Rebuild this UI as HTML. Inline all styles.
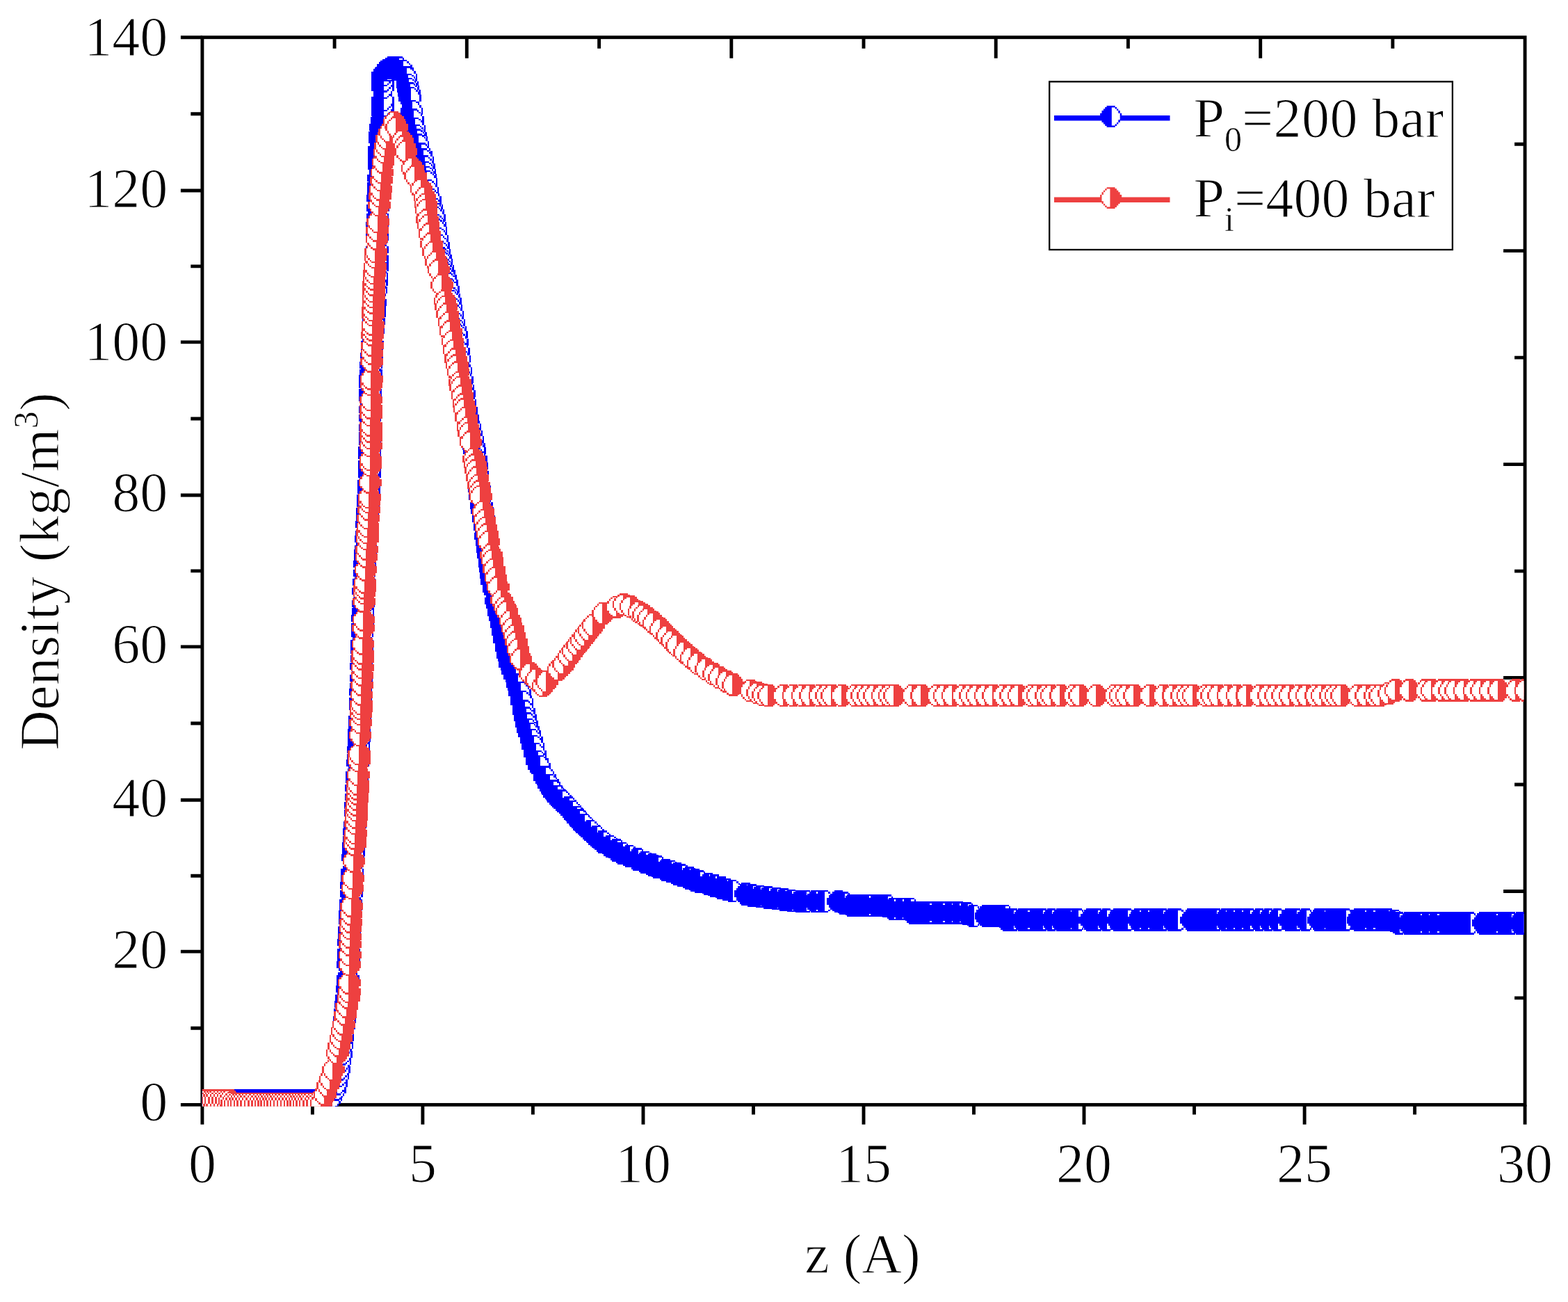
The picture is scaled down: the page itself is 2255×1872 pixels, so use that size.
<!DOCTYPE html>
<html><head><meta charset="utf-8"><style>
html,body{margin:0;padding:0;background:#fff;}
svg{display:block;}
text{font-family:"Liberation Serif","Times New Roman",serif;font-size:80px;fill:#000;stroke:#fff;stroke-width:1.2px;}
</style></head><body>
<svg width="2255" height="1872" viewBox="0 0 2255 1872">
<defs><g id="mb"><polygon points="6,-15.4 6,-13.4 8.4,-13.4 8.4,-10.9 10.7,-10.9 10.7,-8.4 13.1,-8.4 13.1,-4.7 15.5,-4.7 15.5,-0 15.5,4.7 13.1,4.7 13.1,8.4 10.7,8.4 10.7,10.9 8.4,10.9 8.4,13.4 6,13.4 6,15.4 -6,15.4 -6,13.4 -8.4,13.4 -8.4,10.9 -10.7,10.9 -10.7,8.4 -13.1,8.4 -13.1,4.7 -15.5,4.7 -15.5,-0 -15.5,-4.7 -13.1,-4.7 -13.1,-8.4 -10.7,-8.4 -10.7,-10.9 -8.4,-10.9 -8.4,-13.4 -6,-13.4 -6,-15.4" fill="#0000FF"/><polygon points="6,-13 6,-10.9 8.4,-10.9 8.4,-8.4 10.7,-8.4 10.7,-4.7 13.1,-4.7 13.1,-0 13.1,4.7 10.7,4.7 10.7,8.4 8.4,8.4 8.4,10.9 6,10.9 6,13 1.2,13 1.2,10.9 1.2,10.9 1.2,8.4 1.2,8.4 1.2,4.7 1.2,4.7 1.2,-0 1.2,-4.7 1.2,-4.7 1.2,-8.4 1.2,-8.4 1.2,-10.9 1.2,-10.9 1.2,-13" fill="#fff"/></g><g id="mr"><polygon points="6,-15.4 6,-13.4 8.4,-13.4 8.4,-10.9 10.7,-10.9 10.7,-8.4 13.1,-8.4 13.1,-4.7 15.5,-4.7 15.5,-0 15.5,4.7 13.1,4.7 13.1,8.4 10.7,8.4 10.7,10.9 8.4,10.9 8.4,13.4 6,13.4 6,15.4 -6,15.4 -6,13.4 -8.4,13.4 -8.4,10.9 -10.7,10.9 -10.7,8.4 -13.1,8.4 -13.1,4.7 -15.5,4.7 -15.5,-0 -15.5,-4.7 -13.1,-4.7 -13.1,-8.4 -10.7,-8.4 -10.7,-10.9 -8.4,-10.9 -8.4,-13.4 -6,-13.4 -6,-15.4" fill="#EE4040"/><polygon points="-1.2,-13 -1.2,-10.9 -1.2,-10.9 -1.2,-8.4 -1.2,-8.4 -1.2,-4.7 -1.2,-4.7 -1.2,-0 -1.2,4.7 -1.2,4.7 -1.2,8.4 -1.2,8.4 -1.2,10.9 -1.2,10.9 -1.2,13 -6,13 -6,10.9 -8.4,10.9 -8.4,8.4 -10.7,8.4 -10.7,4.7 -13.1,4.7 -13.1,-0 -13.1,-4.7 -10.7,-4.7 -10.7,-8.4 -8.4,-8.4 -8.4,-10.9 -6,-10.9 -6,-13" fill="#fff"/></g><g id="db"><polygon points="6.3,-16.2 6.3,-14.1 8.9,-14.1 8.9,-11.5 11.3,-11.5 11.3,-8.9 13.8,-8.9 13.8,-5 16.4,-5 16.4,-0 16.4,5 13.8,5 13.8,8.9 11.3,8.9 11.3,11.5 8.9,11.5 8.9,14.1 6.3,14.1 6.3,16.2 -6.3,16.2 -6.3,14.1 -8.9,14.1 -8.9,11.5 -11.3,11.5 -11.3,8.9 -13.8,8.9 -13.8,5 -16.4,5 -16.4,-0 -16.4,-5 -13.8,-5 -13.8,-8.9 -11.3,-8.9 -11.3,-11.5 -8.9,-11.5 -8.9,-14.1 -6.3,-14.1 -6.3,-16.2" fill="#0000FF"/><polygon points="6.3,-13.7 6.3,-11.5 8.9,-11.5 8.9,-8.9 11.3,-8.9 11.3,-5 13.8,-5 13.8,-0 13.8,5 11.3,5 11.3,8.9 8.9,8.9 8.9,11.5 6.3,11.5 6.3,13.7 1.2,13.7 1.2,11.5 1.2,11.5 1.2,8.9 1.2,8.9 1.2,5 1.2,5 1.2,-0 1.2,-5 1.2,-5 1.2,-8.9 1.2,-8.9 1.2,-11.5 1.2,-11.5 1.2,-13.7" fill="#fff"/></g><g id="dr"><polygon points="6.3,-16.2 6.3,-14.1 8.9,-14.1 8.9,-11.5 11.3,-11.5 11.3,-8.9 13.8,-8.9 13.8,-5 16.4,-5 16.4,-0 16.4,5 13.8,5 13.8,8.9 11.3,8.9 11.3,11.5 8.9,11.5 8.9,14.1 6.3,14.1 6.3,16.2 -6.3,16.2 -6.3,14.1 -8.9,14.1 -8.9,11.5 -11.3,11.5 -11.3,8.9 -13.8,8.9 -13.8,5 -16.4,5 -16.4,-0 -16.4,-5 -13.8,-5 -13.8,-8.9 -11.3,-8.9 -11.3,-11.5 -8.9,-11.5 -8.9,-14.1 -6.3,-14.1 -6.3,-16.2" fill="#EE4040"/><polygon points="-1.2,-13.7 -1.2,-11.5 -1.2,-11.5 -1.2,-8.9 -1.2,-8.9 -1.2,-5 -1.2,-5 -1.2,-0 -1.2,5 -1.2,5 -1.2,8.9 -1.2,8.9 -1.2,11.5 -1.2,11.5 -1.2,13.7 -6.3,13.7 -6.3,11.5 -8.9,11.5 -8.9,8.9 -11.3,8.9 -11.3,5 -13.8,5 -13.8,-0 -13.8,-5 -11.3,-5 -11.3,-8.9 -8.9,-8.9 -8.9,-11.5 -6.3,-11.5 -6.3,-13.7" fill="#fff"/></g><clipPath id="clip"><rect x="290.9" y="0" width="1900.6" height="1590.7"/></clipPath></defs>
<g id="axes"><rect x="290.9" y="53.7" width="1902.2" height="1534.7" fill="none" stroke="#000" stroke-width="4.9"/>
<path d="M259.9,1588.4H290.9M274.3,1478.2H290.9M259.9,1368.1H290.9M274.3,1259.2H290.9M259.9,1150.2H290.9M274.3,1040H290.9M259.9,929.9H290.9M274.3,820.9H290.9M259.9,712H290.9M274.3,602H290.9M259.9,491.9H290.9M274.3,382.9H290.9M259.9,274H290.9M274.3,163.8H290.9M259.9,53.7H290.9M290.9,1588.4V1616.8M449.4,1588.4V1602.5M607.9,1588.4V1616.8M766.4,1588.4V1602.5M925,1588.4V1616.8M1083.5,1588.4V1602.5M1242,1588.4V1616.8M1400.5,1588.4V1602.5M1559,1588.4V1616.8M1717.5,1588.4V1602.5M1876.1,1588.4V1616.8M2034.6,1588.4V1602.5M2193.1,1588.4V1616.8M481.1,53.7V69.7M671.3,53.7V83.7M861.6,53.7V69.7M1051.8,53.7V83.7M1242,53.7V69.7M1432.2,53.7V83.7M1622.4,53.7V69.7M1812.7,53.7V83.7M2002.9,53.7V69.7M2193.1,1434.9H2178.1M2193.1,1281.5H2162.1M2193.1,1128H2178.1M2193.1,974.5H2162.1M2193.1,821.1H2178.1M2193.1,667.6H2162.1M2193.1,514.1H2178.1M2193.1,360.6H2162.1M2193.1,207.2H2178.1" stroke="#000" stroke-width="4.9" fill="none"/></g>
<g clip-path="url(#clip)" shape-rendering="crispEdges">
<polyline fill="none" stroke="#0000FF" stroke-width="7" stroke-linejoin="round" points="291,1582.4 470,1582.4 476,1578 481,1568 485,1552 490,1520 493,1490 499.5,1428 502.5,1334 507.5,1239 516.5,1059 519.5,968 522.5,855 528.5,741 531.5,680 532.5,551 536,480 542,400 543,310 546,205 546,188 548.4,178 550.5,167 550.5,108 557,100 563,97.5 572.4,97.5 578,100 583.5,110 589,137 593.5,173 598.5,200 608,230 614,270 624,310 633,370 643,410 656.5,483 665,550 670.5,590 680,633 686,672 690,708 692,723 698,765 702,797 708,839 718,882 727,928 733,954 742,976 750,1005 758,1044 766,1070 773,1097 785,1121 797,1141 818,1162 837,1184 864,1209 894,1227 920,1237 950,1248 1001,1266 1056,1282 1085,1288 1115,1292 1146,1296 1210,1296 1218,1302 1275,1302 1278,1307 1310,1307 1312,1312.4 1390,1312.4 1392,1317 1445,1317 1447,1322.5 2005,1322.5 2007,1327.4 2200,1327.4"/>
<use href="#db" x="291" y="1582.4"/>
<use href="#db" x="295.3" y="1582.4"/>
<use href="#db" x="300.6" y="1582.4"/>
<use href="#db" x="305.8" y="1582.4"/>
<use href="#db" x="310.2" y="1582.4"/>
<use href="#db" x="315" y="1582.4"/>
<use href="#db" x="319.7" y="1582.4"/>
<use href="#db" x="324.7" y="1582.4"/>
<use href="#db" x="330" y="1582.4"/>
<use href="#db" x="334.2" y="1582.4"/>
<use href="#db" x="338.3" y="1582.4"/>
<use href="#db" x="343.6" y="1582.4"/>
<use href="#db" x="348.3" y="1582.4"/>
<use href="#db" x="353.5" y="1582.4"/>
<use href="#db" x="357.5" y="1582.4"/>
<use href="#db" x="362.3" y="1582.4"/>
<use href="#db" x="367.4" y="1582.4"/>
<use href="#db" x="371.8" y="1582.4"/>
<use href="#db" x="377.2" y="1582.4"/>
<use href="#db" x="382.6" y="1582.4"/>
<use href="#db" x="386.7" y="1582.4"/>
<use href="#db" x="390.8" y="1582.4"/>
<use href="#db" x="395.7" y="1582.4"/>
<use href="#db" x="401.1" y="1582.4"/>
<use href="#db" x="405.8" y="1582.4"/>
<use href="#db" x="410.2" y="1582.4"/>
<use href="#db" x="414.8" y="1582.4"/>
<use href="#db" x="419" y="1582.4"/>
<use href="#db" x="423.4" y="1582.4"/>
<use href="#db" x="428.1" y="1582.4"/>
<use href="#db" x="432.9" y="1582.4"/>
<use href="#db" x="437.3" y="1582.4"/>
<use href="#db" x="441.7" y="1582.4"/>
<use href="#db" x="446.1" y="1582.4"/>
<use href="#db" x="450.8" y="1582.4"/>
<use href="#db" x="455.3" y="1582.4"/>
<use href="#db" x="459.4" y="1582.4"/>
<use href="#db" x="464.7" y="1582.4"/>
<use href="#db" x="469.6" y="1582.4"/>
<use href="#db" x="475.7" y="1578.2"/>
<use href="#db" x="481.3" y="1566.7"/>
<use href="#db" x="483.4" y="1558.3"/>
<use href="#db" x="485.8" y="1546.8"/>
<use href="#db" x="487.3" y="1537.6"/>
<use href="#db" x="489" y="1526.4"/>
<use href="#db" x="490.4" y="1515.7"/>
<use href="#db" x="491.7" y="1503"/>
<use href="#db" x="492.8" y="1492.4"/>
<use href="#db" x="494.6" y="1474.9"/>
<use href="#db" x="495.6" y="1465.6"/>
<use href="#db" x="496.6" y="1455.3"/>
<use href="#db" x="497.8" y="1444"/>
<use href="#db" x="498.8" y="1434.5"/>
<use href="#db" x="499.7" y="1422.3"/>
<use href="#db" x="500" y="1413.2"/>
<use href="#db" x="500.2" y="1406.9"/>
<use href="#db" x="500.8" y="1387.3"/>
<use href="#db" x="501.1" y="1376.5"/>
<use href="#db" x="501.4" y="1369.2"/>
<use href="#db" x="501.8" y="1355.3"/>
<use href="#db" x="502.1" y="1345"/>
<use href="#db" x="502.4" y="1337.2"/>
<use href="#db" x="503" y="1323.6"/>
<use href="#db" x="503.6" y="1313.9"/>
<use href="#db" x="504.1" y="1303.5"/>
<use href="#db" x="504.4" y="1297.5"/>
<use href="#db" x="505.1" y="1284.9"/>
<use href="#db" x="505.7" y="1273"/>
<use href="#db" x="506.2" y="1262.9"/>
<use href="#db" x="506.7" y="1253.5"/>
<use href="#db" x="507.8" y="1233.1"/>
<use href="#db" x="508.2" y="1225.5"/>
<use href="#db" x="508.7" y="1215.7"/>
<use href="#db" x="509.1" y="1206.9"/>
<use href="#db" x="509.7" y="1195.9"/>
<use href="#db" x="510.1" y="1186.3"/>
<use href="#db" x="511" y="1168.8"/>
<use href="#db" x="511.5" y="1158.1"/>
<use href="#db" x="512.2" y="1145.7"/>
<use href="#db" x="512.8" y="1133.2"/>
<use href="#db" x="513.4" y="1120.5"/>
<use href="#db" x="513.8" y="1113.8"/>
<use href="#db" x="514.6" y="1097.3"/>
<use href="#db" x="515" y="1089.3"/>
<use href="#db" x="515.5" y="1078.3"/>
<use href="#db" x="515.9" y="1071.8"/>
<use href="#db" x="516.4" y="1061.6"/>
<use href="#db" x="516.7" y="1053.4"/>
<use href="#db" x="517" y="1043.8"/>
<use href="#db" x="517.3" y="1034"/>
<use href="#db" x="517.9" y="1015.7"/>
<use href="#db" x="518.2" y="1008.2"/>
<use href="#db" x="518.6" y="995.1"/>
<use href="#db" x="518.9" y="987.4"/>
<use href="#db" x="519.3" y="974.9"/>
<use href="#db" x="519.8" y="958.3"/>
<use href="#db" x="520.1" y="946.5"/>
<use href="#db" x="520.4" y="934.9"/>
<use href="#db" x="520.7" y="924.6"/>
<use href="#db" x="521" y="910.8"/>
<use href="#db" x="521.3" y="900.6"/>
<use href="#db" x="521.6" y="889.4"/>
<use href="#db" x="521.9" y="878.8"/>
<use href="#db" x="522.2" y="867.8"/>
<use href="#db" x="522.8" y="850"/>
<use href="#db" x="523.4" y="837"/>
<use href="#db" x="524.1" y="824.1"/>
<use href="#db" x="524.8" y="810.6"/>
<use href="#db" x="525.3" y="801.3"/>
<use href="#db" x="525.6" y="795.3"/>
<use href="#db" x="526" y="789"/>
<use href="#db" x="526.7" y="775.3"/>
<use href="#db" x="527.1" y="767.9"/>
<use href="#db" x="527.8" y="754.1"/>
<use href="#db" x="528.3" y="744.1"/>
<use href="#db" x="528.8" y="735.3"/>
<use href="#db" x="529.3" y="723.9"/>
<use href="#db" x="529.7" y="716.4"/>
<use href="#db" x="530.3" y="705.1"/>
<use href="#db" x="530.8" y="695.1"/>
<use href="#db" x="531.4" y="682.1"/>
<use href="#db" x="531.5" y="676"/>
<use href="#db" x="531.6" y="667.4"/>
<use href="#db" x="531.7" y="655.1"/>
<use href="#db" x="531.8" y="647.4"/>
<use href="#db" x="531.9" y="634.7"/>
<use href="#db" x="531.9" y="626"/>
<use href="#db" x="532" y="614.5"/>
<use href="#db" x="532.1" y="600.6"/>
<use href="#db" x="532.2" y="588.8"/>
<use href="#db" x="532.3" y="571.5"/>
<use href="#db" x="532.4" y="563.8"/>
<use href="#db" x="532.5" y="553"/>
<use href="#db" x="532.8" y="544.1"/>
<use href="#db" x="533.3" y="535.8"/>
<use href="#db" x="533.8" y="524.9"/>
<use href="#db" x="534.4" y="511.9"/>
<use href="#db" x="534.9" y="501.5"/>
<use href="#db" x="535.3" y="495.2"/>
<use href="#db" x="536.4" y="474.8"/>
<use href="#db" x="537.3" y="462.2"/>
<use href="#db" x="538.2" y="451.3"/>
<use href="#db" x="538.8" y="442.3"/>
<use href="#db" x="539.4" y="434.5"/>
<use href="#db" x="540.7" y="416.9"/>
<use href="#db" x="541.5" y="406.4"/>
<use href="#db" x="542" y="396.8"/>
<use href="#db" x="542.2" y="384.5"/>
<use href="#db" x="542.2" y="378.4"/>
<use href="#db" x="542.3" y="371.6"/>
<use href="#db" x="542.5" y="358.5"/>
<use href="#db" x="542.7" y="341"/>
<use href="#db" x="542.8" y="331.6"/>
<use href="#db" x="542.8" y="324.3"/>
<use href="#db" x="543" y="312.3"/>
<use href="#db" x="543.3" y="299"/>
<use href="#db" x="543.7" y="285.3"/>
<use href="#db" x="543.9" y="276.9"/>
<use href="#db" x="544.2" y="267.1"/>
<use href="#db" x="544.5" y="255.9"/>
<use href="#db" x="545" y="239.4"/>
<use href="#db" x="545.3" y="231"/>
<use href="#db" x="545.5" y="221.4"/>
<use href="#db" x="545.7" y="214.9"/>
<use href="#db" x="546" y="201.1"/>
<use href="#db" x="546" y="194.3"/>
<use href="#db" x="547.1" y="183.4"/>
<use href="#db" x="549.3" y="173.3"/>
<use href="#db" x="550.5" y="162.2"/>
<use href="#db" x="550.5" y="151.8"/>
<use href="#db" x="550.5" y="143.9"/>
<use href="#db" x="550.5" y="126.1"/>
<use href="#db" x="550.5" y="116.5"/>
<use href="#db" x="550.5" y="108"/>
<use href="#db" x="556.3" y="100.9"/>
<use href="#db" x="563" y="97.5"/>
<use href="#db" x="572.4" y="97.5"/>
<use href="#db" x="579.1" y="102"/>
<use href="#db" x="583.7" y="111.2"/>
<use href="#db" x="585.9" y="121.8"/>
<use href="#db" x="587.1" y="127.8"/>
<use href="#db" x="588.4" y="134.2"/>
<use href="#db" x="589.5" y="140.7"/>
<use href="#db" x="591.9" y="159.9"/>
<use href="#db" x="593.4" y="172.2"/>
<use href="#db" x="595.7" y="184.9"/>
<use href="#db" x="597.5" y="194.7"/>
<use href="#db" x="598.9" y="201.2"/>
<use href="#db" x="601.1" y="208.2"/>
<use href="#db" x="605.3" y="221.5"/>
<use href="#db" x="607.9" y="229.6"/>
<use href="#db" x="609.4" y="239.6"/>
<use href="#db" x="610.7" y="247.9"/>
<use href="#db" x="611.7" y="254.9"/>
<use href="#db" x="612.7" y="261.1"/>
<use href="#db" x="615" y="274.1"/>
<use href="#db" x="618.2" y="287"/>
<use href="#db" x="621.1" y="298.6"/>
<use href="#db" x="622.9" y="305.8"/>
<use href="#db" x="624.4" y="312.9"/>
<use href="#db" x="626.1" y="324.1"/>
<use href="#db" x="627.1" y="330.5"/>
<use href="#db" x="628.9" y="342.9"/>
<use href="#db" x="630.5" y="353.1"/>
<use href="#db" x="631.9" y="362.6"/>
<use href="#db" x="633.3" y="371.2"/>
<use href="#db" x="634.8" y="377.2"/>
<use href="#db" x="637.1" y="386.3"/>
<use href="#db" x="638.6" y="392.6"/>
<use href="#db" x="640.4" y="399.5"/>
<use href="#db" x="642.3" y="407.3"/>
<use href="#db" x="644.2" y="416.3"/>
<use href="#db" x="646.1" y="427"/>
<use href="#db" x="647.2" y="433"/>
<use href="#db" x="649.1" y="442.8"/>
<use href="#db" x="650.8" y="452.1"/>
<use href="#db" x="652.9" y="463.8"/>
<use href="#db" x="654.8" y="473.6"/>
<use href="#db" x="656.2" y="481.3"/>
<use href="#db" x="657.6" y="491.6"/>
<use href="#db" x="659.3" y="504.9"/>
<use href="#db" x="660.7" y="516"/>
<use href="#db" x="662.8" y="532.7"/>
<use href="#db" x="664.4" y="545.6"/>
<use href="#db" x="666" y="557.6"/>
<use href="#db" x="667.2" y="566"/>
<use href="#db" x="668.9" y="578.7"/>
<use href="#db" x="670.5" y="590.2"/>
<use href="#db" x="672.9" y="600.7"/>
<use href="#db" x="675.7" y="613.5"/>
<use href="#db" x="678" y="623.9"/>
<use href="#db" x="679.7" y="631.7"/>
<use href="#db" x="681.4" y="642.1"/>
<use href="#db" x="682.4" y="648.4"/>
<use href="#db" x="684.2" y="660"/>
<use href="#db" x="685.7" y="670"/>
<use href="#db" x="687.1" y="681.8"/>
<use href="#db" x="689.4" y="702.6"/>
<use href="#db" x="690.7" y="713.5"/>
<use href="#db" x="692.5" y="726.7"/>
<use href="#db" x="693.5" y="733.8"/>
<use href="#db" x="695.3" y="746.4"/>
<use href="#db" x="697" y="757.8"/>
<use href="#db" x="698.8" y="771.1"/>
<use href="#db" x="699.9" y="780.1"/>
<use href="#db" x="701.1" y="789.5"/>
<use href="#db" x="702.1" y="798"/>
<use href="#db" x="704" y="811.2"/>
<use href="#db" x="705" y="818.1"/>
<use href="#db" x="706.3" y="827.2"/>
<use href="#db" x="707.5" y="835.5"/>
<use href="#db" x="709.9" y="847.3"/>
<use href="#db" x="713.8" y="864.2"/>
<use href="#db" x="715.2" y="870.2"/>
<use href="#db" x="717.7" y="880.7"/>
<use href="#db" x="719.2" y="888.2"/>
<use href="#db" x="721.2" y="898.4"/>
<use href="#db" x="723.3" y="908.9"/>
<use href="#db" x="725.5" y="920.1"/>
<use href="#db" x="728" y="932.3"/>
<use href="#db" x="730.3" y="942.4"/>
<use href="#db" x="733.4" y="954.9"/>
<use href="#db" x="737.4" y="964.7"/>
<use href="#db" x="740.5" y="972.3"/>
<use href="#db" x="744.3" y="984.2"/>
<use href="#db" x="747.4" y="995.7"/>
<use href="#db" x="750.8" y="1009"/>
<use href="#db" x="753.6" y="1022.5"/>
<use href="#db" x="755.6" y="1032.3"/>
<use href="#db" x="757.3" y="1040.6"/>
<use href="#db" x="759.6" y="1049.2"/>
<use href="#db" x="761.4" y="1054.9"/>
<use href="#db" x="764.2" y="1064.1"/>
<use href="#db" x="766.8" y="1072.9"/>
<use href="#db" x="769.6" y="1084"/>
<use href="#db" x="772.4" y="1094.8"/>
<use href="#db" x="775.4" y="1101.8"/>
<use href="#db" x="783.4" y="1117.7"/>
<use href="#db" x="789.8" y="1129"/>
<use href="#db" x="795" y="1137.7"/>
<use href="#db" x="801.1" y="1145.1"/>
<use href="#db" x="807.7" y="1151.7"/>
<use href="#db" x="817.5" y="1161.5"/>
<use href="#db" x="822.4" y="1167"/>
<use href="#db" x="829.1" y="1174.8"/>
<use href="#db" x="833" y="1179.4"/>
<use href="#db" x="839.4" y="1186.2"/>
<use href="#db" x="848.9" y="1195"/>
<use href="#db" x="857.6" y="1203.1"/>
<use href="#db" x="866.8" y="1210.7"/>
<use href="#db" x="877" y="1216.8"/>
<use href="#db" x="886.6" y="1222.6"/>
<use href="#db" x="894.6" y="1227.2"/>
<use href="#db" x="905" y="1231.2"/>
<use href="#db" x="916.4" y="1235.6"/>
<use href="#db" x="927.8" y="1239.8"/>
<use href="#db" x="938" y="1243.6"/>
<use href="#db" x="945.6" y="1246.4"/>
<use href="#db" x="957.8" y="1250.8"/>
<use href="#db" x="964.6" y="1253.2"/>
<use href="#db" x="973.9" y="1256.4"/>
<use href="#db" x="979.9" y="1258.6"/>
<use href="#db" x="991.2" y="1262.5"/>
<use href="#db" x="999.5" y="1265.5"/>
<use href="#db" x="1005.4" y="1267.3"/>
<use href="#db" x="1018.5" y="1271.1"/>
<use href="#db" x="1027.3" y="1273.7"/>
<use href="#db" x="1037.7" y="1276.7"/>
<use href="#db" x="1045.1" y="1278.8"/>
<use href="#db" x="1052.9" y="1281.1"/>
<use href="#db" x="1072.7" y="1285.4"/>
<use href="#db" x="1081.4" y="1287.3"/>
<use href="#db" x="1093.2" y="1289.1"/>
<use href="#db" x="1104.3" y="1290.6"/>
<use href="#db" x="1116.7" y="1292.2"/>
<use href="#db" x="1127.5" y="1293.6"/>
<use href="#db" x="1137.9" y="1295"/>
<use href="#db" x="1150.1" y="1296"/>
<use href="#db" x="1158.8" y="1296"/>
<use href="#db" x="1172.5" y="1296"/>
<use href="#db" x="1185.2" y="1296"/>
<use href="#db" x="1205.8" y="1296"/>
<use href="#db" x="1213.4" y="1298.6"/>
<use href="#db" x="1224.4" y="1302"/>
<use href="#db" x="1231.9" y="1302"/>
<use href="#db" x="1239.2" y="1302"/>
<use href="#db" x="1248.8" y="1302"/>
<use href="#db" x="1260.6" y="1302"/>
<use href="#db" x="1268.7" y="1302"/>
<use href="#db" x="1275.4" y="1302.7"/>
<use href="#db" x="1284.7" y="1307"/>
<use href="#db" x="1296.7" y="1307"/>
<use href="#db" x="1308.5" y="1307"/>
<use href="#db" x="1313.2" y="1312.4"/>
<use href="#db" x="1322.3" y="1312.4"/>
<use href="#db" x="1329.1" y="1312.4"/>
<use href="#db" x="1335.6" y="1312.4"/>
<use href="#db" x="1348.7" y="1312.4"/>
<use href="#db" x="1355" y="1312.4"/>
<use href="#db" x="1367.5" y="1312.4"/>
<use href="#db" x="1378.4" y="1312.4"/>
<use href="#db" x="1390.4" y="1313.4"/>
<use href="#db" x="1399.6" y="1317"/>
<use href="#db" x="1417.9" y="1317"/>
<use href="#db" x="1426.9" y="1317"/>
<use href="#db" x="1434.8" y="1317"/>
<use href="#db" x="1444.5" y="1317"/>
<use href="#db" x="1448.3" y="1322.5"/>
<use href="#db" x="1457" y="1322.5"/>
<use href="#db" x="1470.3" y="1322.5"/>
<use href="#db" x="1476.6" y="1322.5"/>
<use href="#db" x="1489.5" y="1322.5"/>
<use href="#db" x="1498.6" y="1322.5"/>
<use href="#db" x="1511.9" y="1322.5"/>
<use href="#db" x="1524.9" y="1322.5"/>
<use href="#db" x="1532.2" y="1322.5"/>
<use href="#db" x="1538.3" y="1322.5"/>
<use href="#db" x="1549.6" y="1322.5"/>
<use href="#db" x="1567.8" y="1322.5"/>
<use href="#db" x="1577.5" y="1322.5"/>
<use href="#db" x="1590.8" y="1322.5"/>
<use href="#db" x="1607.5" y="1322.5"/>
<use href="#db" x="1613.9" y="1322.5"/>
<use href="#db" x="1620.8" y="1322.5"/>
<use href="#db" x="1637.4" y="1322.5"/>
<use href="#db" x="1649.4" y="1322.5"/>
<use href="#db" x="1662.2" y="1322.5"/>
<use href="#db" x="1671.3" y="1322.5"/>
<use href="#db" x="1685" y="1322.5"/>
<use href="#db" x="1693" y="1322.5"/>
<use href="#db" x="1713.7" y="1322.5"/>
<use href="#db" x="1722.5" y="1322.5"/>
<use href="#db" x="1733" y="1322.5"/>
<use href="#db" x="1739.5" y="1322.5"/>
<use href="#db" x="1748.8" y="1322.5"/>
<use href="#db" x="1761.8" y="1322.5"/>
<use href="#db" x="1773.1" y="1322.5"/>
<use href="#db" x="1785" y="1322.5"/>
<use href="#db" x="1797.1" y="1322.5"/>
<use href="#db" x="1810.9" y="1322.5"/>
<use href="#db" x="1824.2" y="1322.5"/>
<use href="#db" x="1837" y="1322.5"/>
<use href="#db" x="1854" y="1322.5"/>
<use href="#db" x="1863.7" y="1322.5"/>
<use href="#db" x="1877.6" y="1322.5"/>
<use href="#db" x="1896.5" y="1322.5"/>
<use href="#db" x="1903.5" y="1322.5"/>
<use href="#db" x="1915.2" y="1322.5"/>
<use href="#db" x="1921.4" y="1322.5"/>
<use href="#db" x="1928.1" y="1322.5"/>
<use href="#db" x="1934.8" y="1322.5"/>
<use href="#db" x="1953" y="1322.5"/>
<use href="#db" x="1961.5" y="1322.5"/>
<use href="#db" x="1973.9" y="1322.5"/>
<use href="#db" x="1986.7" y="1322.5"/>
<use href="#db" x="1996.1" y="1322.5"/>
<use href="#db" x="2005.6" y="1323.9"/>
<use href="#db" x="2012" y="1327.4"/>
<use href="#db" x="2025.6" y="1327.4"/>
<use href="#db" x="2032.5" y="1327.4"/>
<use href="#db" x="2042.1" y="1327.4"/>
<use href="#db" x="2053.8" y="1327.4"/>
<use href="#db" x="2065.4" y="1327.4"/>
<use href="#db" x="2078.6" y="1327.4"/>
<use href="#db" x="2086.9" y="1327.4"/>
<use href="#db" x="2095.9" y="1327.4"/>
<use href="#db" x="2102.7" y="1327.4"/>
<use href="#db" x="2113.3" y="1327.4"/>
<use href="#db" x="2133.4" y="1327.4"/>
<use href="#db" x="2141.9" y="1327.4"/>
<use href="#db" x="2150.8" y="1327.4"/>
<use href="#db" x="2162.8" y="1327.4"/>
<use href="#db" x="2173" y="1327.4"/>
<use href="#db" x="2186.3" y="1327.4"/>
<use href="#db" x="2194.9" y="1327.4"/>
<polyline fill="none" stroke="#EE4040" stroke-width="7" stroke-linejoin="round" points="291,1582.3 330,1582.3 334,1586.9 452,1586.9 462,1585.5 468,1572 472,1560 478,1544 484,1519 490,1494 495,1468 502,1430 504,1334 509,1239 518,1059 521,968 524,855 530,741 533,680 534,551 538,400 545,300 550,240 556,200 567,176 576,195 585,220 597,252 611,283 615,319 622,358 633,395 644,454 658,529 671,604 685,678 698,753 712,827 720,860 732,886 741,917 748,946 760,966 781,986 790,976 810,956 820,941 850,903 870,879 897,869.2 905,871 930,887 947,901 962,917 980,934 1005,955 1029,971 1057,986 1086,995 1100,1000 1988,1000 1992,997 2000,997 2004,992.5 2200,992.5"/>
<use href="#dr" x="291" y="1582.3"/>
<use href="#dr" x="296.5" y="1582.3"/>
<use href="#dr" x="301.9" y="1582.3"/>
<use href="#dr" x="306.1" y="1582.3"/>
<use href="#dr" x="310.3" y="1582.3"/>
<use href="#dr" x="315.5" y="1582.3"/>
<use href="#dr" x="320.7" y="1582.3"/>
<use href="#dr" x="325.7" y="1582.3"/>
<use href="#dr" x="330.2" y="1582.5"/>
<use href="#dr" x="333.4" y="1586.2"/>
<use href="#dr" x="338.1" y="1586.9"/>
<use href="#dr" x="343" y="1586.9"/>
<use href="#dr" x="347.3" y="1586.9"/>
<use href="#dr" x="352" y="1586.9"/>
<use href="#dr" x="356.6" y="1586.9"/>
<use href="#dr" x="361.8" y="1586.9"/>
<use href="#dr" x="367.3" y="1586.9"/>
<use href="#dr" x="372.7" y="1586.9"/>
<use href="#dr" x="377.6" y="1586.9"/>
<use href="#dr" x="382.3" y="1586.9"/>
<use href="#dr" x="386.8" y="1586.9"/>
<use href="#dr" x="390.9" y="1586.9"/>
<use href="#dr" x="395" y="1586.9"/>
<use href="#dr" x="399.8" y="1586.9"/>
<use href="#dr" x="404.3" y="1586.9"/>
<use href="#dr" x="408.9" y="1586.9"/>
<use href="#dr" x="414.3" y="1586.9"/>
<use href="#dr" x="419.1" y="1586.9"/>
<use href="#dr" x="424" y="1586.9"/>
<use href="#dr" x="428.4" y="1586.9"/>
<use href="#dr" x="432.6" y="1586.9"/>
<use href="#dr" x="437.1" y="1586.9"/>
<use href="#dr" x="441.4" y="1586.9"/>
<use href="#dr" x="446.2" y="1586.9"/>
<use href="#dr" x="451.7" y="1586.9"/>
<use href="#dr" x="456.7" y="1586.2"/>
<use href="#dr" x="462" y="1585.5"/>
<use href="#dr" x="467.2" y="1573.7"/>
<use href="#dr" x="471.5" y="1561.4"/>
<use href="#dr" x="474.9" y="1552.1"/>
<use href="#dr" x="479.4" y="1538.2"/>
<use href="#dr" x="485.2" y="1514.1"/>
<use href="#dr" x="487.7" y="1503.7"/>
<use href="#dr" x="490.2" y="1493"/>
<use href="#dr" x="492.3" y="1482.2"/>
<use href="#dr" x="494.1" y="1472.6"/>
<use href="#dr" x="496.7" y="1458.6"/>
<use href="#dr" x="498.8" y="1447.3"/>
<use href="#dr" x="501.1" y="1434.7"/>
<use href="#dr" x="502.1" y="1426"/>
<use href="#dr" x="502.3" y="1413.4"/>
<use href="#dr" x="502.9" y="1387.2"/>
<use href="#dr" x="503.2" y="1373"/>
<use href="#dr" x="503.5" y="1358.3"/>
<use href="#dr" x="503.7" y="1347.3"/>
<use href="#dr" x="504" y="1335.1"/>
<use href="#dr" x="504.4" y="1325.6"/>
<use href="#dr" x="505" y="1314.5"/>
<use href="#dr" x="505.7" y="1302.5"/>
<use href="#dr" x="507" y="1277.2"/>
<use href="#dr" x="507.7" y="1262.9"/>
<use href="#dr" x="509" y="1238.3"/>
<use href="#dr" x="510.2" y="1214.4"/>
<use href="#dr" x="510.7" y="1205.6"/>
<use href="#dr" x="511.1" y="1197.8"/>
<use href="#dr" x="511.8" y="1184"/>
<use href="#dr" x="512.2" y="1175.3"/>
<use href="#dr" x="512.7" y="1164.9"/>
<use href="#dr" x="513.1" y="1157.7"/>
<use href="#dr" x="513.5" y="1149.3"/>
<use href="#dr" x="513.9" y="1141.7"/>
<use href="#dr" x="514.2" y="1134.5"/>
<use href="#dr" x="514.6" y="1127.3"/>
<use href="#dr" x="515.3" y="1113.8"/>
<use href="#dr" x="516.2" y="1094.2"/>
<use href="#dr" x="516.7" y="1084.1"/>
<use href="#dr" x="518.1" y="1057.2"/>
<use href="#dr" x="518.7" y="1038.9"/>
<use href="#dr" x="519.1" y="1027"/>
<use href="#dr" x="519.3" y="1019.1"/>
<use href="#dr" x="519.6" y="1011.9"/>
<use href="#dr" x="520" y="998.7"/>
<use href="#dr" x="520.5" y="984.5"/>
<use href="#dr" x="520.9" y="970.6"/>
<use href="#dr" x="521.2" y="959.9"/>
<use href="#dr" x="521.5" y="947.6"/>
<use href="#dr" x="521.7" y="939.8"/>
<use href="#dr" x="522.1" y="925.8"/>
<use href="#dr" x="522.7" y="902.5"/>
<use href="#dr" x="523" y="891.4"/>
<use href="#dr" x="523.7" y="864.8"/>
<use href="#dr" x="524.1" y="852.9"/>
<use href="#dr" x="524.5" y="845.8"/>
<use href="#dr" x="524.9" y="837.7"/>
<use href="#dr" x="525.9" y="819.4"/>
<use href="#dr" x="526.9" y="800.6"/>
<use href="#dr" x="527.4" y="789.5"/>
<use href="#dr" x="528.2" y="775.1"/>
<use href="#dr" x="528.7" y="766.2"/>
<use href="#dr" x="529.1" y="757.2"/>
<use href="#dr" x="529.8" y="745.2"/>
<use href="#dr" x="530.4" y="732.6"/>
<use href="#dr" x="530.9" y="722.2"/>
<use href="#dr" x="531.3" y="715.2"/>
<use href="#dr" x="532.3" y="693.5"/>
<use href="#dr" x="533.1" y="669"/>
<use href="#dr" x="533.1" y="661.2"/>
<use href="#dr" x="533.3" y="641.2"/>
<use href="#dr" x="533.4" y="630"/>
<use href="#dr" x="533.5" y="620.5"/>
<use href="#dr" x="533.5" y="611.8"/>
<use href="#dr" x="533.6" y="597.1"/>
<use href="#dr" x="533.7" y="586.6"/>
<use href="#dr" x="533.8" y="575"/>
<use href="#dr" x="534" y="553.2"/>
<use href="#dr" x="534.2" y="544.8"/>
<use href="#dr" x="534.8" y="519.6"/>
<use href="#dr" x="535.1" y="508.4"/>
<use href="#dr" x="535.4" y="496.5"/>
<use href="#dr" x="535.8" y="481.7"/>
<use href="#dr" x="536" y="474.5"/>
<use href="#dr" x="536.2" y="466.7"/>
<use href="#dr" x="536.6" y="453"/>
<use href="#dr" x="536.8" y="445.9"/>
<use href="#dr" x="537.1" y="435.6"/>
<use href="#dr" x="537.3" y="426.9"/>
<use href="#dr" x="537.5" y="419.3"/>
<use href="#dr" x="537.8" y="409.4"/>
<use href="#dr" x="538" y="401.8"/>
<use href="#dr" x="538.5" y="393.2"/>
<use href="#dr" x="539.2" y="383.1"/>
<use href="#dr" x="540.1" y="370.1"/>
<use href="#dr" x="540.6" y="362.2"/>
<use href="#dr" x="542" y="343.5"/>
<use href="#dr" x="542.8" y="331.4"/>
<use href="#dr" x="543.7" y="318.9"/>
<use href="#dr" x="545.4" y="295"/>
<use href="#dr" x="546.5" y="282.3"/>
<use href="#dr" x="547.3" y="272.4"/>
<use href="#dr" x="548.4" y="259.1"/>
<use href="#dr" x="549.3" y="247.9"/>
<use href="#dr" x="551" y="233.4"/>
<use href="#dr" x="553.1" y="219.1"/>
<use href="#dr" x="554.5" y="209.8"/>
<use href="#dr" x="556.4" y="199.1"/>
<use href="#dr" x="560.7" y="189.6"/>
<use href="#dr" x="567" y="176"/>
<use href="#dr" x="570.5" y="183.3"/>
<use href="#dr" x="578.8" y="202.8"/>
<use href="#dr" x="581.6" y="210.5"/>
<use href="#dr" x="584.1" y="217.6"/>
<use href="#dr" x="593.3" y="242"/>
<use href="#dr" x="597.6" y="253.4"/>
<use href="#dr" x="606.1" y="272.2"/>
<use href="#dr" x="611.1" y="283.5"/>
<use href="#dr" x="612.2" y="294"/>
<use href="#dr" x="613.1" y="301.8"/>
<use href="#dr" x="614.7" y="316.3"/>
<use href="#dr" x="615.9" y="324"/>
<use href="#dr" x="618.1" y="336.5"/>
<use href="#dr" x="620.6" y="350.5"/>
<use href="#dr" x="623.4" y="362.8"/>
<use href="#dr" x="627.7" y="377.1"/>
<use href="#dr" x="631" y="388.2"/>
<use href="#dr" x="635.7" y="409.6"/>
<use href="#dr" x="640" y="432.6"/>
<use href="#dr" x="641.6" y="440.9"/>
<use href="#dr" x="643.5" y="451.6"/>
<use href="#dr" x="645.9" y="464"/>
<use href="#dr" x="648.2" y="476.5"/>
<use href="#dr" x="650.9" y="490.9"/>
<use href="#dr" x="653.3" y="503.7"/>
<use href="#dr" x="655.7" y="516.5"/>
<use href="#dr" x="657.3" y="525.2"/>
<use href="#dr" x="659.1" y="535.2"/>
<use href="#dr" x="661.6" y="549.8"/>
<use href="#dr" x="662.8" y="556.8"/>
<use href="#dr" x="665" y="569.3"/>
<use href="#dr" x="667.1" y="581.4"/>
<use href="#dr" x="668.3" y="588.4"/>
<use href="#dr" x="670.5" y="601"/>
<use href="#dr" x="673.1" y="615"/>
<use href="#dr" x="674.5" y="622.7"/>
<use href="#dr" x="677" y="635.6"/>
<use href="#dr" x="681.6" y="659.9"/>
<use href="#dr" x="683.2" y="668.3"/>
<use href="#dr" x="684.7" y="676.2"/>
<use href="#dr" x="686.5" y="686.5"/>
<use href="#dr" x="688.5" y="697.9"/>
<use href="#dr" x="689.9" y="706.4"/>
<use href="#dr" x="691.2" y="713.9"/>
<use href="#dr" x="695" y="735.9"/>
<use href="#dr" x="697.1" y="748"/>
<use href="#dr" x="699.1" y="758.7"/>
<use href="#dr" x="700.9" y="768.2"/>
<use href="#dr" x="702.9" y="779.1"/>
<use href="#dr" x="706.4" y="797.5"/>
<use href="#dr" x="708" y="805.7"/>
<use href="#dr" x="710.4" y="818.7"/>
<use href="#dr" x="712.9" y="830.9"/>
<use href="#dr" x="716.2" y="844.4"/>
<use href="#dr" x="721.4" y="863.1"/>
<use href="#dr" x="725.9" y="872.8"/>
<use href="#dr" x="728.9" y="879.3"/>
<use href="#dr" x="734" y="893"/>
<use href="#dr" x="737.2" y="903.9"/>
<use href="#dr" x="740.1" y="914"/>
<use href="#dr" x="742.5" y="923.2"/>
<use href="#dr" x="745" y="933.7"/>
<use href="#dr" x="748.9" y="947.5"/>
<use href="#dr" x="762.8" y="968.6"/>
<use href="#dr" x="771.6" y="977"/>
<use href="#dr" x="781" y="986"/>
<use href="#dr" x="786.5" y="979.9"/>
<use href="#dr" x="803.1" y="962.9"/>
<use href="#dr" x="810.8" y="954.8"/>
<use href="#dr" x="818.2" y="943.7"/>
<use href="#dr" x="823.9" y="936.1"/>
<use href="#dr" x="830.5" y="927.7"/>
<use href="#dr" x="836.2" y="920.5"/>
<use href="#dr" x="841.1" y="914.3"/>
<use href="#dr" x="847.3" y="906.4"/>
<use href="#dr" x="853.3" y="899"/>
<use href="#dr" x="867.5" y="882"/>
<use href="#dr" x="887" y="872.8"/>
<use href="#dr" x="897" y="869.2"/>
<use href="#dr" x="907" y="872.3"/>
<use href="#dr" x="919.1" y="880"/>
<use href="#dr" x="925.7" y="884.2"/>
<use href="#dr" x="932.6" y="889.2"/>
<use href="#dr" x="940.3" y="895.5"/>
<use href="#dr" x="950.2" y="904.5"/>
<use href="#dr" x="959.4" y="914.3"/>
<use href="#dr" x="966.7" y="921.4"/>
<use href="#dr" x="973.8" y="928.1"/>
<use href="#dr" x="984.5" y="937.8"/>
<use href="#dr" x="994.1" y="945.8"/>
<use href="#dr" x="1004" y="954.1"/>
<use href="#dr" x="1015.5" y="962"/>
<use href="#dr" x="1026.3" y="969.2"/>
<use href="#dr" x="1034.4" y="973.9"/>
<use href="#dr" x="1045.3" y="979.7"/>
<use href="#dr" x="1054.3" y="984.5"/>
<use href="#dr" x="1079.5" y="993"/>
<use href="#dr" x="1089.7" y="996.3"/>
<use href="#dr" x="1097.7" y="999.2"/>
<use href="#dr" x="1105.6" y="1000"/>
<use href="#dr" x="1126.8" y="1000"/>
<use href="#dr" x="1141.1" y="1000"/>
<use href="#dr" x="1154.2" y="1000"/>
<use href="#dr" x="1165.5" y="1000"/>
<use href="#dr" x="1179.2" y="1000"/>
<use href="#dr" x="1188.5" y="1000"/>
<use href="#dr" x="1196.7" y="1000"/>
<use href="#dr" x="1211.1" y="1000"/>
<use href="#dr" x="1230.4" y="1000"/>
<use href="#dr" x="1239.4" y="1000"/>
<use href="#dr" x="1248.4" y="1000"/>
<use href="#dr" x="1257.4" y="1000"/>
<use href="#dr" x="1269.2" y="1000"/>
<use href="#dr" x="1279.2" y="1000"/>
<use href="#dr" x="1286.7" y="1000"/>
<use href="#dr" x="1312.4" y="1000"/>
<use href="#dr" x="1325.6" y="1000"/>
<use href="#dr" x="1348.3" y="1000"/>
<use href="#dr" x="1358" y="1000"/>
<use href="#dr" x="1369.9" y="1000"/>
<use href="#dr" x="1384.9" y="1000"/>
<use href="#dr" x="1395.7" y="1000"/>
<use href="#dr" x="1405.2" y="1000"/>
<use href="#dr" x="1417" y="1000"/>
<use href="#dr" x="1428.3" y="1000"/>
<use href="#dr" x="1443.2" y="1000"/>
<use href="#dr" x="1453.8" y="1000"/>
<use href="#dr" x="1465" y="1000"/>
<use href="#dr" x="1484" y="1000"/>
<use href="#dr" x="1492" y="1000"/>
<use href="#dr" x="1504.5" y="1000"/>
<use href="#dr" x="1512.1" y="1000"/>
<use href="#dr" x="1525.5" y="1000"/>
<use href="#dr" x="1544.4" y="1000"/>
<use href="#dr" x="1552.8" y="1000"/>
<use href="#dr" x="1576.9" y="1000"/>
<use href="#dr" x="1603.6" y="1000"/>
<use href="#dr" x="1611" y="1000"/>
<use href="#dr" x="1619.9" y="1000"/>
<use href="#dr" x="1631.4" y="1000"/>
<use href="#dr" x="1653.9" y="1000"/>
<use href="#dr" x="1673.7" y="1000"/>
<use href="#dr" x="1687.3" y="1000"/>
<use href="#dr" x="1699.7" y="1000"/>
<use href="#dr" x="1707.9" y="1000"/>
<use href="#dr" x="1715.9" y="1000"/>
<use href="#dr" x="1734.9" y="1000"/>
<use href="#dr" x="1742.3" y="1000"/>
<use href="#dr" x="1752.3" y="1000"/>
<use href="#dr" x="1766.2" y="1000"/>
<use href="#dr" x="1779" y="1000"/>
<use href="#dr" x="1793.3" y="1000"/>
<use href="#dr" x="1812.2" y="1000"/>
<use href="#dr" x="1824.3" y="1000"/>
<use href="#dr" x="1834.3" y="1000"/>
<use href="#dr" x="1844.7" y="1000"/>
<use href="#dr" x="1854.9" y="1000"/>
<use href="#dr" x="1868.4" y="1000"/>
<use href="#dr" x="1879.2" y="1000"/>
<use href="#dr" x="1892.3" y="1000"/>
<use href="#dr" x="1901.1" y="1000"/>
<use href="#dr" x="1913.7" y="1000"/>
<use href="#dr" x="1921" y="1000"/>
<use href="#dr" x="1929.6" y="1000"/>
<use href="#dr" x="1952.8" y="1000"/>
<use href="#dr" x="1964.8" y="1000"/>
<use href="#dr" x="1977.4" y="1000"/>
<use href="#dr" x="1984.8" y="1000"/>
<use href="#dr" x="1997.4" y="997"/>
<use href="#dr" x="2007.2" y="992.5"/>
<use href="#dr" x="2026.9" y="992.5"/>
<use href="#dr" x="2050.7" y="992.5"/>
<use href="#dr" x="2059.1" y="992.5"/>
<use href="#dr" x="2074" y="992.5"/>
<use href="#dr" x="2084.7" y="992.5"/>
<use href="#dr" x="2093.4" y="992.5"/>
<use href="#dr" x="2106" y="992.5"/>
<use href="#dr" x="2120.2" y="992.5"/>
<use href="#dr" x="2130.5" y="992.5"/>
<use href="#dr" x="2143.2" y="992.5"/>
<use href="#dr" x="2155.5" y="992.5"/>
<use href="#dr" x="2179.8" y="992.5"/>
<use href="#dr" x="2194.1" y="992.5"/>
</g>
<g id="labels"><text x="241.3" y="79.6" text-anchor="end">140</text>
<text x="241.3" y="297.5" text-anchor="end">120</text>
<text x="241.3" y="517.5" text-anchor="end">100</text>
<text x="241.3" y="735.2" text-anchor="end">80</text>
<text x="241.3" y="953" text-anchor="end">60</text>
<text x="241.3" y="1173.8" text-anchor="end">40</text>
<text x="241.3" y="1391.6" text-anchor="end">20</text>
<text x="241.3" y="1611.2" text-anchor="end">0</text>
<text x="290.9" y="1699.7" text-anchor="middle">0</text>
<text x="607.9" y="1699.7" text-anchor="middle">5</text>
<text x="925" y="1699.7" text-anchor="middle">10</text>
<text x="1242" y="1699.7" text-anchor="middle">15</text>
<text x="1559" y="1699.7" text-anchor="middle">20</text>
<text x="1876.1" y="1699.7" text-anchor="middle">25</text>
<text x="2193.1" y="1699.7" text-anchor="middle">30</text>
<text x="1157.2" y="1829.6">z (A)</text>
<text transform="translate(84.4,1079) rotate(-90)" letter-spacing="0.22">Density (kg/m<tspan font-size="50" stroke-width="0.6" dy="-30.5">3</tspan><tspan dy="30.5">)</tspan></text></g>
<g id="legend"><rect x="1509.2" y="117.4" width="579.7" height="241.6" fill="#fff" stroke="#000" stroke-width="2.3"/>
<line x1="1516" y1="169.8" x2="1682.5" y2="169.8" stroke="#0000FF" stroke-width="7.5"/>
<use href="#mb" x="1597.6" y="167.5"/>
<line x1="1516" y1="287.2" x2="1682.5" y2="287.2" stroke="#EE4040" stroke-width="7.5"/>
<use href="#mr" x="1597.6" y="284.6"/>
<text x="1716.5" y="197.4">P<tspan font-size="50" stroke-width="0.6" dy="20">0</tspan><tspan dy="-20" letter-spacing="0.45">=200 bar</tspan></text>
<text x="1716.5" y="311.7">P<tspan font-size="50" stroke-width="0.6" dy="20">i</tspan><tspan dy="-20" letter-spacing="0.2">=400 bar</tspan></text></g>
</svg>
</body></html>
